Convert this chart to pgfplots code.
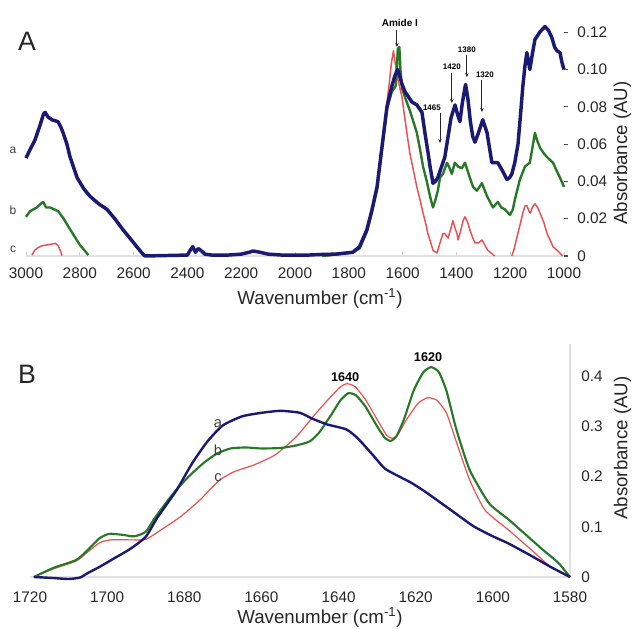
\documentclass[border=0pt]{standalone}
\usepackage{fontspec}
\setmainfont{Liberation Sans}
\usepackage{pgfplots}
\pgfplotsset{compat=1.18}
\usetikzlibrary{arrows.meta}

\definecolor{specA}{RGB}{26,26,116}
\definecolor{specB}{RGB}{40,120,40}
\definecolor{specC}{RGB}{238,78,78}
\definecolor{axgray}{RGB}{225,225,225}

\newcommand{\labelfont}{\fontsize{14}{16}\selectfont\color{black!85}}

\pgfplotsset{
  spectrum/.style={
    scale only axis,
    x dir=reverse,
    clip=false,
    axis x line*=bottom,
    axis y line*=right,
    x axis line style={-, draw=axgray, line width=0.8pt},
    /pgf/number format/assume math mode=true,
    /pgf/number format/1000 sep={},
    tick label style={font=\fontsize{11.5}{13}\selectfont, text=black!85},
    xtick style={draw=gray!40, line width=0.6pt},
    xtick align=inside,
    every axis plot/.append style={no markers, line join=round},
  },
}
\tikzset{
  note/.style={font=\bfseries\fontsize{6}{7}\selectfont, inner sep=0.5pt},
  pointer/.style={-{Stealth[length=3pt,width=2.6pt]}, line width=0.7pt, black!85},
}

\begin{document}
\begin{tikzpicture}
\path[use as bounding box] (0,0) rectangle (475.5pt,471pt);

% ---------------- Panel A: full mid-IR range ----------------
\begin{axis}[spectrum,
  at={(19.5pt,279pt)}, anchor=south west,
  width=403.5pt, height=181.9pt,
  xmin=1000, xmax=3000, ymin=0, ymax=0.13,
  xtick={1000,1200,...,3000},
  xticklabels={1000,1200,1400,1600,1800,2000,2200,2400,2600,2800,3000},
  ytick={0,0.02,0.04,0.06,0.08,0.10,0.12},
  yticklabels={0,0.02,0.04,0.06,0.08,0.10,0.12},
  ytick style={draw=black!70, line width=0.8pt},
  ytick align=outside,
  y axis line style={draw=none},
  major tick length=3pt,
  xticklabel style={anchor=center, yshift=-12.75pt},
  yticklabel style={anchor=west, inner xsep=0pt, xshift=6.75pt},
  xlabel={Wavenumber (cm\textsuperscript{-1})},
  ylabel={Absorbance (AU)},
  every axis x label/.style={at={(axis description cs:0.5465,-0.198)}, anchor=base, font=\labelfont},
  every axis y label/.style={at={(axis description cs:1.1085,0.4246)}, rotate=90, anchor=center, font=\labelfont},
]
% sample c
\addplot[specC, line width=1.1pt] coordinates {
 (2978,0.0005) (2968,0.003) (2955,0.0045) (2940,0.0055) (2920,0.006) (2900,0.0065)
 (2891,0.0068) (2880,0.0055) (2870,0.002) (2866,0.0002)};
\addplot[specC, line width=1.1pt] coordinates {
 (1880,0) (1820,0.001) (1785,0.002) (1760,0.004) (1733,0.013) (1715,0.023) (1695,0.036)
 (1677,0.058) (1660,0.080) (1650,0.092) (1642,0.103) (1634,0.110) (1628,0.104)
 (1620,0.096) (1610,0.090) (1602,0.085) (1591,0.073) (1582,0.064) (1573,0.055)
 (1560,0.046) (1547,0.037) (1535,0.030) (1524,0.023) (1515,0.018) (1506,0.012)
 (1495,0.007) (1487,0.003) (1472,0.0016) (1461,0.007) (1450,0.012) (1443,0.012)
 (1431,0.0096) (1420,0.015) (1413,0.019) (1405,0.015) (1398,0.012) (1394,0.0086)
 (1385,0.013) (1375,0.019) (1368,0.021) (1358,0.018) (1350,0.014) (1340,0.010)
 (1331,0.007) (1318,0.007) (1305,0.0086) (1295,0.006) (1283,0.003) (1270,0.0015)
 (1257,0)};
\addplot[specC, line width=1.1pt] coordinates {
 (1194,0) (1185,0.004) (1175,0.010) (1163,0.017) (1153,0.023) (1145,0.027)
 (1138,0.027) (1130,0.024) (1125,0.023) (1118,0.026) (1108,0.028) (1098,0.026)
 (1089,0.023) (1075,0.018) (1063,0.012) (1050,0.008) (1041,0.005) (1025,0.003)
 (1015,0.0016) (1005,0)};
% sample b
\addplot[specB, line width=1.8pt] coordinates {
 (3000,0.021) (2985,0.024) (2960,0.026) (2945,0.028) (2936,0.029) (2925,0.026)
 (2910,0.026) (2895,0.025) (2880,0.024) (2860,0.020) (2835,0.014) (2800,0.006)
 (2768,0.0005)};
\addplot[specB, line width=1.8pt] coordinates {
 (1900,0) (1850,0.0008) (1785,0.002) (1760,0.004) (1733,0.013) (1715,0.023)
 (1695,0.036) (1677,0.057) (1658,0.079) (1640,0.088) (1626,0.091) (1621,0.100)
 (1618,0.111) (1612,0.112) (1608,0.100) (1602,0.090) (1591,0.085) (1573,0.078)
 (1560,0.072) (1547,0.066) (1535,0.057) (1524,0.048) (1510,0.040) (1498,0.032)
 (1487,0.026) (1478,0.030) (1469,0.035) (1461,0.042) (1450,0.044) (1435,0.050)
 (1425,0.047) (1417,0.044) (1406,0.050) (1394,0.048) (1380,0.047) (1368,0.050)
 (1350,0.042) (1338,0.037) (1324,0.035) (1305,0.039) (1286,0.032) (1264,0.026)
 (1246,0.029) (1233,0.026) (1220,0.025) (1201,0.022) (1190,0.025) (1183,0.030)
 (1164,0.041) (1145,0.048) (1127,0.050) (1115,0.060) (1108,0.066) (1100,0.062)
 (1089,0.058) (1075,0.055) (1063,0.053) (1041,0.050) (1025,0.045) (1015,0.042)
 (1000,0.037)};
% sample a
\addplot[specA, line width=2.6pt] coordinates {
 (3000,0.0525) (2985,0.057) (2967,0.062) (2948,0.070) (2935,0.076) (2929,0.077)
 (2918,0.0745) (2903,0.073) (2881,0.072) (2870,0.069) (2862,0.066) (2848,0.060)
 (2836,0.053) (2810,0.042) (2785,0.036) (2762,0.032) (2730,0.028) (2699,0.025)
 (2670,0.020) (2639,0.014) (2605,0.008) (2569,0.0016) (2558,0) (2400,0.0005)
 (2390,0.003) (2380,0.005) (2370,0.002) (2360,0.004) (2350,0.003) (2335,0.001)
 (2310,0.0005) (2250,0.0005) (2200,0.001) (2170,0.002) (2156,0.0027) (2130,0.002)
 (2100,0.001) (2050,0.0005) (1950,0.0005) (1907,0.0008) (1850,0.001) (1785,0.002)
 (1760,0.005) (1733,0.014) (1715,0.024) (1695,0.037) (1677,0.058) (1665,0.072)
 (1658,0.080) (1640,0.091) (1630,0.096) (1619,0.100) (1612,0.097) (1602,0.092)
 (1591,0.088) (1565,0.0825) (1547,0.081) (1528,0.077) (1517,0.066) (1505,0.055)
 (1498,0.048) (1487,0.039) (1478,0.040) (1469,0.042) (1455,0.048) (1443,0.053)
 (1431,0.064) (1420,0.074) (1405,0.081) (1396,0.076) (1387,0.072) (1378,0.082)
 (1366,0.092) (1357,0.084) (1348,0.072) (1339,0.064) (1331,0.061) (1318,0.066)
 (1302,0.073) (1293,0.069) (1286,0.066) (1277,0.058) (1268,0.050) (1256,0.050)
 (1246,0.050) (1230,0.046) (1212,0.041) (1202,0.042) (1194,0.044) (1183,0.050)
 (1171,0.060) (1162,0.075) (1153,0.091) (1145,0.102) (1138,0.109) (1132,0.104)
 (1127,0.100) (1118,0.108) (1108,0.116) (1090,0.120) (1071,0.123) (1058,0.121)
 (1045,0.117) (1035,0.112) (1026,0.110) (1015,0.109) (1008,0.104) (1000,0.100)};

% band assignments
\node[font=\bfseries\fontsize{7.5}{8}\selectfont, inner sep=0.5pt] at (axis cs:1610,0.1249) {Amide I};
\draw[pointer] (axis cs:1621,0.1211) -- (axis cs:1621,0.112);
\node[note] at (axis cs:1361,0.1104) {1380};
\draw[pointer] (axis cs:1361,0.1077) -- (axis cs:1361,0.0959);
\node[note] at (axis cs:1417,0.1013) {1420};
\draw[pointer] (axis cs:1417,0.0981) -- (axis cs:1417,0.082);
\node[note] at (axis cs:1294,0.0970) {1320};
\draw[pointer] (axis cs:1305,0.0943) -- (axis cs:1305,0.0772);
\node[note] at (axis cs:1491,0.0793) {1465};
\draw[pointer] (axis cs:1461,0.0766) -- (axis cs:1461,0.0606);
\end{axis}

% ---------------- Panel B: amide I region ----------------
\begin{axis}[spectrum,
  at={(22.5pt,38.25pt)}, anchor=south west,
  width=405pt, height=175.1pt,
  xmin=1580, xmax=1720, ymin=0, ymax=0.465,
  xtick={1580,1600,...,1720},
  xticklabels={1580,1600,1620,1640,1660,1680,1700,1720},
  ytick={0,0.1,0.2,0.3,0.4},
  yticklabels={0,0.1,0.2,0.3,0.4},
  major tick length=0pt,
  y axis line style={-, draw=axgray, line width=0.8pt},
  xticklabel style={anchor=center, yshift=-15pt},
  yticklabel style={anchor=west, inner xsep=0pt, xshift=8.25pt},
  xlabel={Wavenumber (cm\textsuperscript{-1})},
  ylabel={Absorbance (AU)},
  every axis x label/.style={at={(axis description cs:0.537,-0.201)}, anchor=base, font=\labelfont},
  every axis y label/.style={at={(axis description cs:1.0975,0.5527)}, rotate=90, anchor=center, font=\labelfont},
  every axis plot/.append style={smooth, tension=0.35},
]
% sample c
\addplot[specC, line width=0.9pt] coordinates {
 (1719,0) (1714,0.016) (1708,0.032) (1705,0.050) (1702,0.068) (1699,0.074)
 (1694,0.074) (1690,0.075) (1686,0.094) (1681,0.120) (1676,0.153) (1671,0.192)
 (1667,0.210) (1662,0.223) (1656.5,0.243) (1651,0.279) (1646,0.325) (1642.5,0.355)
 (1639.5,0.379) (1637.8,0.385) (1635.7,0.379) (1633,0.353) (1629.5,0.307) (1627.5,0.282)
 (1626,0.276) (1624.5,0.285) (1622.5,0.312) (1619.5,0.345) (1617,0.357) (1614.5,0.352)
 (1612,0.326) (1609.5,0.270) (1606,0.193) (1602,0.133) (1596,0.094) (1590,0.054)
 (1585,0.020) (1580,0)};
% sample b
\addplot[specB, line width=1.6pt] coordinates {
 (1719,0) (1714,0.018) (1708,0.034) (1705,0.054) (1702,0.077) (1699.5,0.086)
 (1696,0.084) (1693,0.081) (1690,0.090) (1687.6,0.118) (1683,0.165) (1679,0.199)
 (1675,0.227) (1671.5,0.246) (1668,0.256) (1664,0.258) (1660,0.256) (1655,0.257)
 (1651,0.262) (1647.5,0.270) (1645,0.288) (1642,0.322) (1639.5,0.352) (1637.5,0.366)
 (1635.5,0.362) (1633,0.339) (1630,0.300) (1628,0.277) (1626.5,0.271) (1625,0.280)
 (1623,0.315) (1620.5,0.372) (1618,0.408) (1616,0.418) (1614,0.408) (1612,0.370)
 (1609.5,0.295) (1606,0.213) (1601,0.147) (1596,0.115) (1592,0.088) (1587,0.054)
 (1583,0.028) (1580,0)};
% sample a
\addplot[specA, line width=1.8pt] coordinates {
 (1719,0) (1714,-0.002) (1710,-0.004) (1707,-0.001) (1705,0.008) (1702,0.020)
 (1698,0.038) (1694,0.056) (1690,0.080) (1687,0.118) (1682,0.173) (1678,0.226)
 (1674,0.270) (1670,0.302) (1665,0.320) (1660,0.327) (1655,0.331) (1650,0.327)
 (1647,0.316) (1643,0.304) (1638,0.294) (1635,0.276) (1631,0.242) (1628,0.216)
 (1624,0.199) (1621,0.187) (1617,0.167) (1611,0.134) (1605,0.101) (1600,0.081)
 (1596,0.067) (1590,0.042) (1585,0.020) (1580,0)};

\node[font=\bfseries\fontsize{9.5}{10}\selectfont] at (axis cs:1638.3,0.398) {1640};
\node[font=\bfseries\fontsize{9.5}{10}\selectfont] at (axis cs:1616.8,0.438) {1620};
\end{axis}

% panel letters and trace labels
\node[font=\fontsize{20}{22}\selectfont, text=black!85] at (20.25pt,440.25pt) {A};
\node[font=\fontsize{20}{22}\selectfont, text=black!85] at (20.25pt,190.5pt) {B};
\begin{scope}[every node/.style={font=\fontsize{9}{10}\selectfont, text=black!75}]
\node at (9.75pt,358.5pt) {a};
\node at (9.75pt,313.5pt) {b};
\node at (9.75pt,284.25pt) {c};
\end{scope}
\begin{scope}[every node/.style={font=\fontsize{11}{12}\selectfont, text=black!75}]
\node at (163.5pt,153pt) {a};
\node at (163.5pt,133.5pt) {b};
\node at (163.5pt,112.5pt) {c};
\end{scope}
\end{tikzpicture}
\end{document}
